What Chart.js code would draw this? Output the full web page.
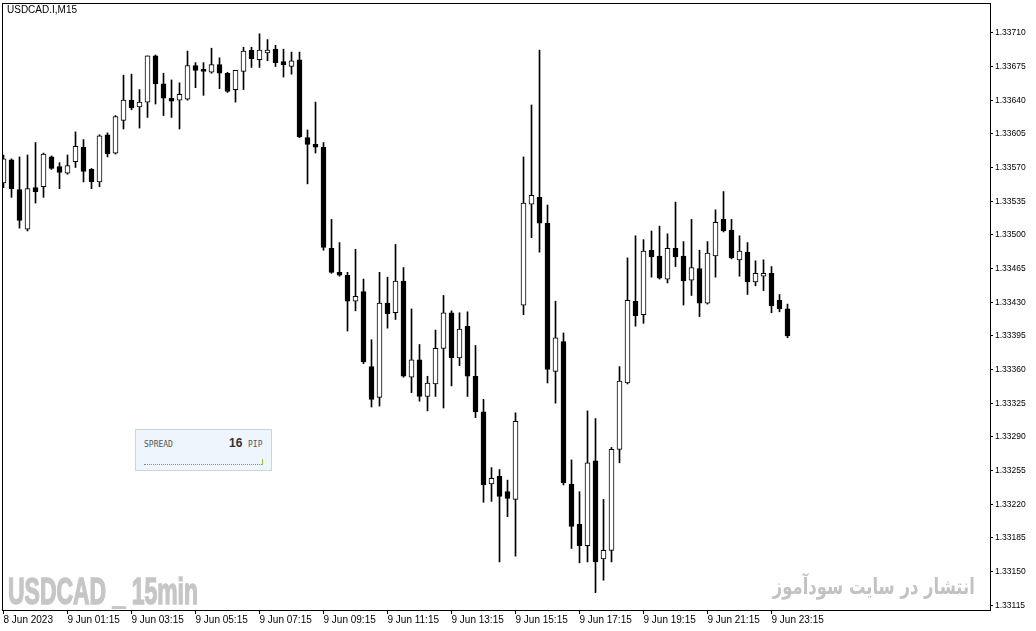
<!DOCTYPE html>
<html>
<head>
<meta charset="utf-8">
<title>USDCAD.I,M15</title>
<script src="https://cdn.jsdelivr.net/npm/chart.js@4.4.1/dist/chart.umd.min.js"></script>
<style>
    html, body { margin: 0; padding: 0; background: #fff; }
    #wrap { position: relative; width: 1036px; height: 631px; overflow: hidden; }
    #chart { position: absolute; left: 0; top: 0; }
    .ov { position: absolute; white-space: nowrap; }
    #title { left: 7px; top: 4px; font: 10px "Liberation Sans", Arial, sans-serif; color: #000; line-height: 12px; }
    #spread { left: 135px; top: 429px; width: 135px; height: 40px; background: #eef5fc; border: 1px solid #c9d6e2; }
    #spread .lbl { position: absolute; left: 8px; top: 10px; font: 8px "DejaVu Sans Mono", monospace; color: #555; }
    #spread .val { position: absolute; left: 93px; top: 6px; font: bold 12px "Liberation Sans", Arial, sans-serif; color: #333; }
    #spread .unit { position: absolute; left: 112px; top: 10px; font: 8px "DejaVu Sans Mono", monospace; color: #555; }
    #spread .dots { position: absolute; left: 8px; top: 34px; width: 118px; border-top: 1px dotted #888; }
    #spread .bar { position: absolute; left: 126px; top: 29px; width: 1px; height: 6px; background: #8dc63f; }
    #wmLeft { left: 8px; top: 573px; font: bold 37px "Liberation Sans", Arial, sans-serif; line-height: 37px; color: #c6c6c6; -webkit-text-stroke: 1.5px #c6c6c6; transform-origin: left top; }
    #wmRight { right: 61px; top: 574px; font: bold 22px "DejaVu Sans", sans-serif; line-height: 26px; color: #c2c2c2; transform-origin: right top; }
</style>
</head>
<body>
<div id="wrap">
    <canvas id="chart" width="1036" height="631"></canvas>
    <div class="ov" id="title">USDCAD.I,M15</div>
    <div class="ov" id="spread">
        <span class="lbl">SPREAD</span>
        <span class="val">16</span>
        <span class="unit">PIP</span>
        <div class="dots"></div>
        <div class="bar"></div>
    </div>
    <div class="ov" id="wmLeft">USDCAD _ 15min</div>
    <div class="ov" id="wmRight" dir="rtl">انتشار در سایت سودآموز</div>
</div>
<script>
// candle data, 15 min bars from 8 Jun 2023 23:15
const xTickIndex = [0, 8, 16, 24, 32, 40, 48, 56, 64, 72, 80, 88, 96];
const xTickLabels = ['8 Jun 2023', '9 Jun 01:15', '9 Jun 03:15', '9 Jun 05:15', '9 Jun 07:15', '9 Jun 09:15',
    '9 Jun 11:15', '9 Jun 13:15', '9 Jun 15:15', '9 Jun 17:15', '9 Jun 19:15', '9 Jun 21:15', '9 Jun 23:15'];
const yTickValues = [1.33115, 1.33150, 1.33185, 1.33220, 1.33255, 1.33290, 1.33325, 1.33360, 1.33395,
    1.33430, 1.33465, 1.33500, 1.33535, 1.33570, 1.33605, 1.33640, 1.33675, 1.33710];

const opens = [1.33554,1.33578,1.33547,1.33506,1.33549,1.33550,1.33581,1.33571,1.33564,1.33576,
    1.33591,1.33568,1.33555,1.33604,1.33585,1.33619,1.33640,1.33633,1.33638,1.33686,
    1.33657,1.33642,1.33640,1.33641,1.33676,1.33672,1.33669,1.33677,1.33668,1.33651,
    1.33670,1.33692,1.33682,1.33689,1.33693,1.33680,1.33675,1.33682,1.33601,1.33594,
    1.33591,1.33486,1.33461,1.33458,1.33431,1.33441,1.33363,1.33331,1.33429,1.33419,
    1.33452,1.33352,1.33370,1.33332,1.33345,1.33382,1.33419,1.33372,1.33405,1.33353,
    1.33316,1.33241,1.33249,1.33233,1.33225,1.33427,1.33532,1.33539,1.33512,1.33358,
    1.33389,1.33241,1.33199,1.33177,1.33265,1.33163,1.33172,1.33277,1.33346,1.33431,
    1.33417,1.33484,1.33478,1.33454,1.33486,1.33478,1.33453,1.33465,1.33429,1.33478,
    1.33516,1.33505,1.33474,1.33482,1.33451,1.33457,1.33460,1.33432,1.33423];
const highs = [1.33583,1.33579,1.33581,1.33583,1.33596,1.33585,1.33582,1.33575,1.33583,1.33607,
    1.33599,1.33569,1.33604,1.33606,1.33624,1.33666,1.33667,1.33651,1.33686,1.33687,
    1.33668,1.33661,1.33658,1.33691,1.33679,1.33679,1.33694,1.33684,1.33669,1.33671,
    1.33695,1.33695,1.33709,1.33703,1.33697,1.33693,1.33690,1.33690,1.33609,1.33638,
    1.33596,1.33516,1.33492,1.33461,1.33485,1.33454,1.33391,1.33461,1.33456,1.33490,
    1.33466,1.33423,1.33386,1.33353,1.33401,1.33437,1.33421,1.33419,1.33420,1.33385,
    1.33329,1.33258,1.33256,1.33245,1.33315,1.33581,1.33635,1.33692,1.33531,1.33431,
    1.33398,1.33266,1.33233,1.33317,1.33309,1.33225,1.33279,1.33363,1.33476,1.33499,
    1.33495,1.33504,1.33509,1.33501,1.33534,1.33493,1.33516,1.33484,1.33493,1.33526,
    1.33545,1.33516,1.33499,1.33492,1.33473,1.33474,1.33467,1.33438,1.33428];
const lows = [1.33549,1.33539,1.33507,1.33504,1.33533,1.33539,1.33568,1.33548,1.33563,1.33570,
    1.33555,1.33548,1.33550,1.33581,1.33584,1.33610,1.33630,1.33611,1.33622,1.33636,
    1.33624,1.33622,1.33610,1.33640,1.33653,1.33645,1.33668,1.33652,1.33648,1.33638,
    1.33651,1.33674,1.33674,1.33681,1.33675,1.33664,1.33667,1.33601,1.33553,1.33585,
    1.33484,1.33460,1.33457,1.33400,1.33421,1.33366,1.33321,1.33322,1.33403,1.33412,
    1.33352,1.33336,1.33327,1.33317,1.33332,1.33320,1.33343,1.33364,1.33332,1.33310,
    1.33222,1.33223,1.33160,1.33207,1.33166,1.33417,1.33497,1.33482,1.33346,1.33325,
    1.33240,1.33174,1.33159,1.33160,1.33128,1.33141,1.33160,1.33263,1.33345,1.33405,
    1.33408,1.33456,1.33454,1.33450,1.33467,1.33427,1.33437,1.33415,1.33428,1.33456,
    1.33503,1.33475,1.33457,1.33438,1.33447,1.33442,1.33419,1.33420,1.33393];
const closes = [1.33579,1.33548,1.33515,1.33548,1.33545,1.33584,1.33569,1.33565,1.33572,1.33592,
    1.33566,1.33555,1.33603,1.33584,1.33623,1.33640,1.33632,1.33638,1.33686,1.33657,
    1.33642,1.33639,1.33646,1.33676,1.33671,1.33670,1.33677,1.33668,1.33649,1.33671,
    1.33691,1.33683,1.33692,1.33692,1.33679,1.33677,1.33681,1.33602,1.33594,1.33591,
    1.33487,1.33461,1.33458,1.33431,1.33436,1.33368,1.33329,1.33429,1.33418,1.33452,
    1.33353,1.33370,1.33332,1.33346,1.33382,1.33419,1.33372,1.33402,1.33353,1.33316,
    1.33240,1.33247,1.33228,1.33226,1.33306,1.33533,1.33541,1.33512,1.33360,1.33393,
    1.33242,1.33197,1.33177,1.33263,1.33160,1.33172,1.33277,1.33348,1.33432,1.33416,
    1.33483,1.33477,1.33455,1.33486,1.33477,1.33452,1.33466,1.33429,1.33481,1.33513,
    1.33504,1.33476,1.33483,1.33451,1.33460,1.33460,1.33426,1.33423,1.33395];

const wickData = opens.map((o, i) => ({ x: i, y: [lows[i], highs[i]] }));
const bodyData = opens.map((o, i) => ({ x: i, y: [o, closes[i]] }));
const bodyFill = opens.map((o, i) => closes[i] >= o ? '#ffffff' : '#000000');

// black frame round the plot area, like the terminal draws it
const framePlugin = {
    id: 'frame',
    afterDraw(chart) {
        const a = chart.chartArea, ctx = chart.ctx;
        ctx.save();
        ctx.strokeStyle = '#000';
        ctx.lineWidth = 1;
        ctx.strokeRect(a.left + 0.5, a.top + 0.5, a.right - a.left, a.bottom - a.top);
        ctx.restore();
    }
};

const ctx = document.getElementById('chart').getContext('2d');
new Chart(ctx, {
    type: 'bar',
    data: {
        datasets: [
            {
                label: 'wick',
                data: wickData,
                backgroundColor: '#000000',
                borderWidth: 0,
                barThickness: 1,
                grouped: false,
                order: 2
            },
            {
                label: 'body',
                data: bodyData,
                backgroundColor: bodyFill,
                borderColor: '#000000',
                borderWidth: 1,
                borderSkipped: false,
                barThickness: 5,
                grouped: false,
                order: 1
            }
        ]
    },
    options: {
        responsive: false,
        animation: false,
        events: [],
        layout: { autoPadding: false, padding: { left: 2, top: 3, right: 0, bottom: 0 } },
        plugins: { legend: { display: false }, tooltip: { enabled: false } },
        scales: {
            x: {
                type: 'linear',
                min: -0.1875,
                max: 123.3125,
                offset: false,
                grid: { drawOnChartArea: false, tickLength: 4, color: '#000', offset: false },
                border: { display: true, color: '#000' },
                afterBuildTicks: s => { s.ticks = xTickIndex.map(v => ({ value: v })); },
                afterFit: s => { s.height = 21; s.paddingLeft = 0; s.paddingRight = 0; },
                ticks: {
                    autoSkip: false,
                    maxRotation: 0,
                    minRotation: 0,
                    align: 'start',
                    padding: 0,
                    color: '#000',
                    font: { family: 'Liberation Sans', size: 10 },
                    callback: (v, i) => xTickLabels[i]
                }
            },
            y: {
                position: 'right',
                min: 1.33110,
                max: 1.33741,
                grid: { drawOnChartArea: false, tickLength: 3, color: '#000' },
                border: { display: true, color: '#000' },
                afterBuildTicks: s => { s.ticks = yTickValues.map(v => ({ value: v })); },
                afterFit: s => { s.width = 46; s.paddingTop = 0; s.paddingBottom = 0; },
                ticks: {
                    autoSkip: false,
                    padding: 2,
                    color: '#000',
                    font: { family: 'Liberation Sans', size: 8.5 },
                    callback: v => v.toFixed(5)
                }
            }
        }
    },
    plugins: [framePlugin]
});

// squeeze the watermark texts to the widths they have in the terminal
function fitWidth(id, targetW) {
    const el = document.getElementById(id);
    const w = el.getBoundingClientRect().width;
    if (w > 0) el.style.transform = 'scaleX(' + (targetW / w) + ')';
}
fitWidth('wmLeft', 190);
fitWidth('wmRight', 202);
</script>
</body>
</html>
